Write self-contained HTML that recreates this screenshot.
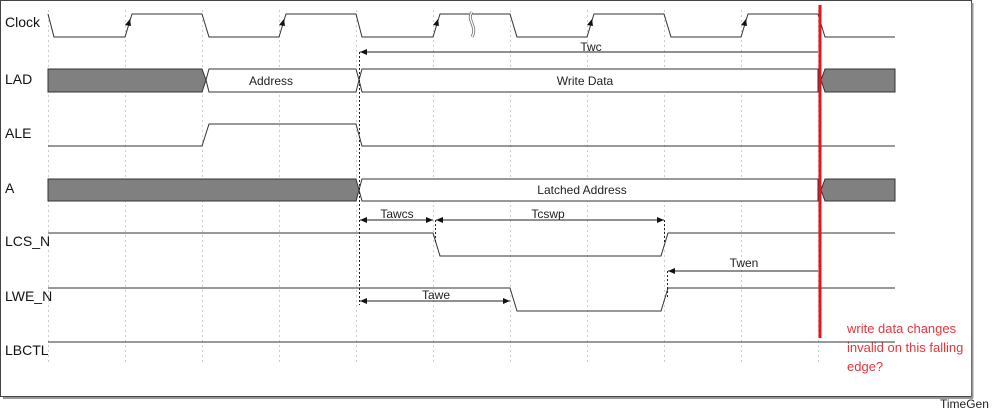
<!DOCTYPE html>
<html><head><meta charset="utf-8"><style>
html,body{margin:0;padding:0;background:#fff;width:998px;height:415px;overflow:hidden}
svg{display:block}
text{font-family:"Liberation Sans",Arial,sans-serif}
</style></head><body>
<svg width="998" height="415" viewBox="0 0 998 415" xmlns="http://www.w3.org/2000/svg">
<defs>
<marker id="ar" markerWidth="8" markerHeight="8" refX="7" refY="4" orient="auto-start-reverse" markerUnits="userSpaceOnUse">
<path d="M0,1 L7,4 L0,7 Z" fill="#111"/></marker>
</defs>
<rect x="0.5" y="0.5" width="971" height="396" fill="#fff" stroke="#444" stroke-width="1"/>
<line x1="972.5" y1="3" x2="972.5" y2="398" stroke="#999" stroke-width="2"/>
<line x1="3" y1="398" x2="973" y2="398" stroke="#999" stroke-width="2"/>
<g stroke="#ccc" stroke-width="1" stroke-dasharray="2,3">
<line x1="48.5" y1="10" x2="48.5" y2="365"/><line x1="125.5" y1="10" x2="125.5" y2="365"/>
<line x1="202.5" y1="10" x2="202.5" y2="365"/><line x1="279.5" y1="10" x2="279.5" y2="365"/>
<line x1="356.5" y1="10" x2="356.5" y2="365"/><line x1="433.5" y1="10" x2="433.5" y2="365"/>
<line x1="510.5" y1="10" x2="510.5" y2="365"/><line x1="587.5" y1="10" x2="587.5" y2="365"/>
<line x1="664.5" y1="10" x2="664.5" y2="365"/><line x1="741.5" y1="10" x2="741.5" y2="365"/>
<line x1="818.5" y1="10" x2="818.5" y2="365"/>
</g>
<g font-size="14" fill="#111">
<text x="5" y="27">Clock</text><text x="5" y="84">LAD</text><text x="5" y="138">ALE</text>
<text x="5" y="193">A</text><text x="5" y="246">LCS_N</text><text x="5" y="301">LWE_N</text><text x="5" y="355">LBCTL</text>
</g>
<g fill="none" stroke="#333" stroke-width="1">
<polyline points="48,14 54,37 125,37 132,14 202,14 209,37 279,37 286,14 356,14 362,37 433,37 440,14 510,14 517,37 587,37 594,14 664,14 671,37 741,37 748,14 818,14 825,37 895,37"/>
<polyline points="48,146 202,146 209,124 356,124 362,146 895,146"/>
<polyline points="48,233 433,233 440,256 661,256 668,233 895,233"/>
<polyline points="48,288 510,288 517,311 661,311 668,288 895,288"/>
<line x1="48" y1="342" x2="895" y2="342"/>
</g>
<g fill="#111"><path d="M125,25 L130,19 L131,26 Z"/><path d="M279,25 L284,19 L285,26 Z"/><path d="M433,25 L438,19 L439,26 Z"/><path d="M587,25 L592,19 L593,26 Z"/><path d="M741,25 L746,19 L747,26 Z"/></g>
<path d="M472,12 C466,20 478,26 472,37" fill="none" stroke="#777" stroke-width="3"/>
<path d="M472,12 C466,20 478,26 472,37" fill="none" stroke="#fff" stroke-width="1.3"/>
<g stroke="#333" stroke-width="1">
<path d="M48,69 L202,69 L206,80 L202,92 L48,92 Z" fill="#808080"/>
<path d="M209,69 L356,69 L359,80 L356,92 L209,92 L206,80 Z" fill="#fff"/>
<path d="M362,69 L818,69 L818,92 L362,92 L359,80 Z" fill="#fff"/>
<path d="M825,69 L895,69 L895,92 L825,92 L821,80 Z" fill="#808080"/>
<path d="M48,179 L356,179 L359,190 L356,201 L48,201 Z" fill="#808080"/>
<path d="M362,179 L818,179 L818,201 L362,201 L359,190 Z" fill="#fff"/>
<path d="M825,179 L895,179 L895,201 L825,201 L821,190 Z" fill="#808080"/>
</g>
<g font-size="12" fill="#222" text-anchor="middle">
<text x="271" y="85">Address</text><text x="585" y="85">Write Data</text><text x="582" y="194">Latched Address</text>
<text x="591" y="51">Twc</text><text x="397" y="218">Tawcs</text><text x="548" y="218">Tcswp</text>
<text x="744" y="267">Twen</text><text x="436" y="299">Tawe</text>
</g>
<g stroke="#222" stroke-width="1" fill="none">
<line x1="360" y1="52" x2="818" y2="52" marker-start="url(#ar)"/>
<line x1="360" y1="220" x2="433" y2="220" marker-start="url(#ar)" marker-end="url(#ar)"/>
<line x1="436" y1="220" x2="664" y2="220" marker-start="url(#ar)" marker-end="url(#ar)"/>
<line x1="668" y1="271" x2="818" y2="271" marker-start="url(#ar)"/>
<line x1="360" y1="301" x2="510" y2="301" marker-start="url(#ar)" marker-end="url(#ar)"/>
</g>
<g stroke="#222" stroke-width="1" stroke-dasharray="2,2">
<line x1="359.5" y1="52" x2="359.5" y2="305"/><line x1="435.5" y1="220" x2="435.5" y2="244"/>
<line x1="664.5" y1="220" x2="664.5" y2="244"/><line x1="667.5" y1="271" x2="667.5" y2="299"/>
</g>
<line x1="820" y1="5" x2="820" y2="338" stroke="#e8141c" stroke-width="3"/>
<g font-size="13" fill="#e8343c" font-family="Liberation Sans,sans-serif">
<text x="847" y="333">write data changes</text><text x="847" y="352">invalid on this falling</text><text x="847" y="371">edge?</text>
</g>
<text x="940" y="408" font-size="12" fill="#222">TimeGen</text>
</svg>
</body></html>
